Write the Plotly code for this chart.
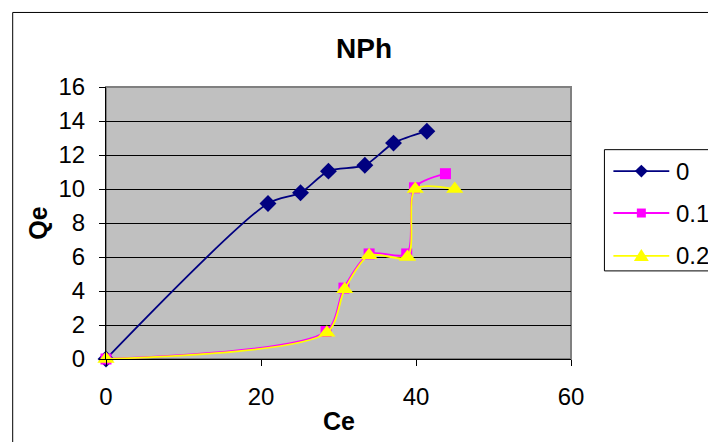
import plotly.graph_objects as go

# Adsorption data: equilibrium concentration (Ce) vs. uptake (Qe)
ce_0 = [0, 20.9, 25.1, 28.7, 33.4, 37.1, 41.4]
qe_0 = [0, 9.15, 9.78, 11.05, 11.4, 12.7, 13.4]

ce_01 = [0, 28.4, 30.7, 33.95, 38.8, 39.8, 43.8]
qe_01 = [0, 1.62, 4.17, 6.18, 6.18, 10.07, 10.9]

ce_02 = [0, 28.5, 30.8, 33.95, 38.9, 39.9, 45.0]
qe_02 = [0, 1.55, 4.1, 6.1, 6.0, 10.0, 10.0]

series_names = ["0", "0.1", "0.2"]
series_colors = ["#000080", "#FF00FF", "#FFFF00"]
x_ticks = [0, 20, 40, 60]
y_ticks = [0, 2, 4, 6, 8, 10, 12, 14, 16]

FONT = "Liberation Sans, Arial, sans-serif"
W, H = 708, 442
ML, MR, MT, MB = 105.5, 136.5, 86.7, 82.7
PW, PH = W - ML - MR, H - MT - MB
LW = 1.8


def px(x):
    """Horizontal pixel -> paper fraction."""
    return (x - ML) / PW


def py(y):
    """Vertical pixel (from top) -> paper fraction."""
    return (H - MB - y) / PH


fig = go.Figure()
fig.add_trace(go.Scatter(
    x=ce_0, y=qe_0, name=series_names[0],
    mode="lines+markers", line=dict(color=series_colors[0], width=LW, shape="spline", smoothing=0.8),
    marker=dict(symbol="diamond", size=13, color=series_colors[0]), cliponaxis=False))
fig.add_trace(go.Scatter(
    x=ce_01, y=qe_01, name=series_names[1],
    mode="lines+markers", line=dict(color=series_colors[1], width=LW, shape="spline", smoothing=0.8),
    marker=dict(symbol="square", size=11, color=series_colors[1]), cliponaxis=False))
fig.add_trace(go.Scatter(
    x=ce_02, y=qe_02, name=series_names[2],
    mode="lines+markers", line=dict(color=series_colors[2], width=LW, shape="spline", smoothing=0.8),
    marker=dict(symbol="triangle-up", size=15, color=series_colors[2]), cliponaxis=False))

shapes = [
    # outer chart frame
    dict(type="rect", xref="paper", yref="paper", x0=px(12), x1=px(800), y0=py(500), y1=py(12),
         line=dict(color="black", width=1), layer="below"),
    # plot-area border
    dict(type="rect", xref="paper", yref="paper", x0=0, x1=1, y0=0, y1=1,
         line=dict(color="#808080", width=2), layer="below"),
    # legend box
    dict(type="rect", xref="paper", yref="paper", x0=px(605), x1=px(800), y0=py(271), y1=py(149.5),
         line=dict(color="black", width=1), fillcolor="white", layer="above"),
]
annotations = [
    dict(text="<b>NPh</b>", xref="paper", yref="paper", x=px(364), y=py(48),
         showarrow=False, font=dict(family=FONT, size=28), xanchor="center", yanchor="middle"),
    dict(text="<b>Qe</b>", xref="paper", yref="paper", x=px(37), y=0.5, textangle=-90,
         showarrow=False, font=dict(family=FONT, size=25), xanchor="center", yanchor="middle"),
    dict(text="<b>Ce</b>", xref="paper", yref="paper", x=0.5, y=py(421),
         showarrow=False, font=dict(family=FONT, size=25), xanchor="center", yanchor="middle"),
]

# legend entries: line sample, marker glyph and label
legend_rows = [171, 213, 256]
mx = 642
for name, color, yr in zip(series_names, series_colors, legend_rows):
    shapes.append(dict(type="line", xref="paper", yref="paper", x0=px(614), x1=px(670),
                       y0=py(yr), y1=py(yr), line=dict(color=color, width=LW), layer="above"))
    annotations.append(dict(text=name, xref="paper", yref="paper", x=px(675), y=py(yr),
                            showarrow=False, xanchor="left", yanchor="middle",
                            font=dict(family=FONT, size=24)))
d = 6.5
shapes.append(dict(type="path", xref="paper", yref="paper", layer="above",
                   path=f"M {px(mx)} {py(171 - d)} L {px(mx + d)} {py(171)} L {px(mx)} {py(171 + d)} L {px(mx - d)} {py(171)} Z",
                   fillcolor=series_colors[0], line=dict(width=0)))
shapes.append(dict(type="rect", xref="paper", yref="paper", layer="above",
                   x0=px(mx - 4.5), x1=px(mx + 4.5), y0=py(213 + 4.5), y1=py(213 - 4.5),
                   fillcolor=series_colors[1], line=dict(width=0)))
shapes.append(dict(type="path", xref="paper", yref="paper", layer="above",
                   path=f"M {px(mx)} {py(249)} L {px(mx + 7.5)} {py(261)} L {px(mx - 7.5)} {py(261)} Z",
                   fillcolor=series_colors[2], line=dict(width=0)))

fig.update_layout(
    width=W, height=H,
    margin=dict(l=ML, r=MR, t=MT, b=MB, autoexpand=False),
    paper_bgcolor="white", plot_bgcolor="#C0C0C0",
    font=dict(family=FONT, size=24, color="black"),
    showlegend=False,
    shapes=shapes,
    annotations=annotations,
)
fig.update_xaxes(range=[0, 60], tickvals=x_ticks, showgrid=False, zeroline=False,
                 showline=True, linecolor="black", linewidth=1,
                 tickfont=dict(family=FONT, size=24),
                 ticks="outside", ticklen=6, tickcolor="black", ticklabelstandoff=10)
fig.update_yaxes(range=[0, 16], tickvals=y_ticks, showgrid=True, gridcolor="black", gridwidth=1,
                 zeroline=False, showline=True, linecolor="black", linewidth=1,
                 tickfont=dict(family=FONT, size=24),
                 ticks="outside", ticklen=6, tickcolor="black", ticklabelstandoff=9)

fig.write_html("out.html")
